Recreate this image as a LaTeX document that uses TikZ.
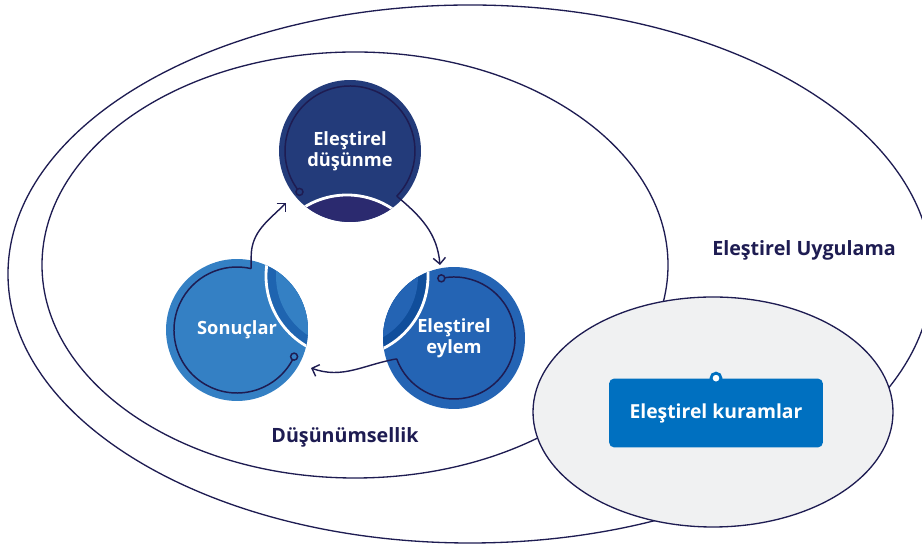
\documentclass[tikz,border=0pt]{standalone}
\usepackage{fontspec}
\setmainfont{Open Sans}
\usepackage{tikz}
\usetikzlibrary{calc,arrows.meta}

\definecolor{ink}{RGB}{30,28,82}
\definecolor{dusblue}{RGB}{35,59,122}
\definecolor{dusnavy}{RGB}{43,42,111}
\definecolor{sonblue}{RGB}{52,128,196}
\definecolor{sonband}{RGB}{30,100,176}
\definecolor{eylblue}{RGB}{36,100,180}
\definecolor{eylband}{RGB}{16,78,155}
\definecolor{kurblue}{RGB}{0,112,192}
\definecolor{kurgray}{RGB}{240,241,242}

\begin{document}
\begin{tikzpicture}[x=0.02cm, y=0.02cm,
            disc/.style={circle, inner sep=0pt, minimum size=2.84cm, text=white, align=center,
                font=\fontsize{10.4}{12}\selectfont\bfseries},
            lbl/.style={text=ink, font=\fontsize{11.2}{13}\selectfont\bfseries},
            ring/.style={draw=ink, line width=0.85pt},
            flow/.style={draw=ink, line width=0.8pt, -{Straight Barb[length=3.5pt, width=7pt]}}]
            \useasboundingbox (0,0) rectangle (922,550);
            \clip (0,0) rectangle (922,550);
            \fill[white] (0,0) rectangle (922,550);

            \draw[ink, line width=0.75pt] (470,276) ellipse[x radius=462, y radius=269];
            \draw[ink, line width=0.75pt] (355,285) ellipse[x radius=313, y radius=213];
            \draw[ink, line width=0.75pt, fill=kurgray] (713,138) ellipse[x radius=180, y radius=115];

            \coordinate (mid) at (347,274);
            \node[disc, fill=dusblue, path picture={
                \fill[dusnavy] (mid) circle[radius=81];
                \draw[white, line width=1.6pt] (mid) circle[radius=81];}] (dus) at (350,399) {Eleştirel\\düşünme};
            \node[disc, fill=sonblue, path picture={
                \fill[sonband] (mid) circle[radius=81];
                \fill[sonblue] (mid) circle[radius=71];
                \draw[white, line width=1.6pt] (mid) circle[radius=81];}] (son) at (237,220) {\raisebox{-6pt}{Sonuçlar}};
            \node[disc, fill=eylblue, path picture={
                \fill[eylband] (mid) circle[radius=81];
                \fill[eylblue] (mid) circle[radius=71];
                \draw[white, line width=1.6pt] (mid) circle[radius=81];}] (eyl) at (454,212) {Eleştirel\\eylem};

            \draw[ring] (dus.center) ++(219:65) coordinate (dus0) arc[start angle=219, end angle=-44, radius=65] coordinate (dus1);
            \draw[ring] (eyl.center) ++(102:61) coordinate (eyl0) arc[start angle=102, end angle=-160, radius=61] coordinate (eyl1);
            \draw[ring] (son.center) ++(-25:63) coordinate (son0) arc[start angle=-25, end angle=-283, radius=63] coordinate (son1);
            \draw[ring, fill=dusblue] (dus0) circle[radius=3.5];
            \draw[ring, fill=eylblue] (eyl0) circle[radius=3.5];
            \draw[ring, fill=sonblue] (son0) circle[radius=3.5];

            \coordinate (tipE) at (440,285);
            \coordinate (tipS) at (311,182);
            \coordinate (tipD) at (286,347);
            \draw[flow] (dus1) to[out=-40, in=95] (tipE);
            \draw[flow] (eyl1) to[out=190, in=-20] (tipS);
            \draw[flow] (son1) -- ++(0,12) to[out=90, in=225] (tipD);

            \node[lbl] (dsm) at (345,113) {Düşünümsellik};
            \node[lbl] (uyg) at (804,300) {Eleştirel Uygulama};

            \node[rectangle, rounded corners=3pt, fill=kurblue, minimum width=4.28cm, minimum height=1.38cm,
                text=white, font=\fontsize{11}{13}\selectfont\bfseries] (kur) at (716,137) {Eleştirel kuramlar};
            \draw[kurblue, fill=white, line width=1.6pt] (kur.north) circle[radius=5];
        \end{tikzpicture}
\end{document}
